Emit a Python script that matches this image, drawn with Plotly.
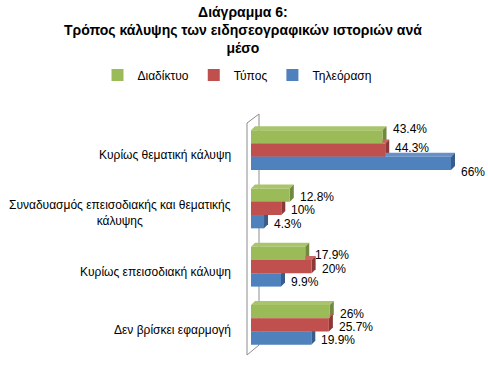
import plotly.graph_objects as go

categories = ["Κυρίως θεματική κάλυψη",
              "Συναδυασμός επεισοδιακής και θεματικής<br>κάλυψης",
              "Κυρίως επεισοδιακή κάλυψη",
              "Δεν βρίσκει εφαρμογή"]
series_names = ["Διαδίκτυο", "Τύπος", "Τηλεόραση"]
internet = [43.4, 12.8, 17.9, 26]
press = [44.3, 10, 20, 25.7]
tv = [66, 4.3, 9.9, 19.9]
label_text = {
    "Διαδίκτυο": ["43.4%", "12.8%", "17.9%", "26%"],
    "Τύπος": ["44.3%", "10%", "20%", "25.7%"],
    "Τηλεόραση": ["66%", "4.3%", "9.9%", "19.9%"],
}

# style
front_colors = ["#9BBB59", "#C0504D", "#4F81BD"]
side_colors = ["#71893F", "#8C3836", "#385D8A"]
top_colors = ["#A9C56B", "#C96562", "#6790C6"]
label_yshift = [[8, -2, -2, -2], [2, -2, -2, -2], [-9, -2, -2, -2]]
FONT = "Liberation Sans, Arial, sans-serif"

W_PX, H_PX = 488, 371
ML, MR, MT, MB = 10, 10, 121, 17
PW = W_PX - ML - MR
PH = H_PX - MT - MB
ZERO_PX = 251          # pixel where value 0 sits
PX_PER_UNIT = 200 / 66
XMIN = -(ZERO_PX - ML) / PX_PER_UNIT
XMAX = XMIN + PW / PX_PER_UNIT
cat_px = PH / len(categories)

bargap = 0.314
w = (1 - bargap) / 3
dx = 4 / PX_PER_UNIT
dy = 4 / cat_px

fig = go.Figure()
shapes = []
annotations = []
values = [internet, press, tv]
ypos = list(range(len(categories)))
for i, (name, vals) in enumerate(zip(series_names, values)):
    off = -(1 - bargap) / 2 + i * w
    fig.add_trace(go.Bar(
        y=ypos, x=vals, orientation="h", name=name,
        width=w, offset=off,
        marker=dict(color=front_colors[i], line=dict(width=0)),
        hoverinfo="x+name",
    ))
    for g, v in enumerate(vals):
        yt = g + off
        yb = yt + w
        shapes.append(dict(type="path", xref="x", yref="y", layer="below",
                           path=f"M 0,{yt} L {v},{yt} L {v+dx},{yt-dy} L {dx},{yt-dy} Z",
                           fillcolor=top_colors[i], line=dict(width=0)))
        shapes.append(dict(type="path", xref="x", yref="y", layer="below",
                           path=f"M {v},{yt} L {v+dx},{yt-dy} L {v+dx},{yb-dy} L {v},{yb} Z",
                           fillcolor=side_colors[i], line=dict(width=0)))
        annotations.append(dict(x=v, y=yt + w / 2, xref="x", yref="y",
                                text=label_text[name][g], showarrow=False,
                                xanchor="left", yanchor="middle", xshift=8,
                                yshift=label_yshift[i][g],
                                font=dict(size=12, color="#000000")))


def px(x):
    return (x - ML) / PW


def py(y):
    return (H_PX - MB - y) / PH


# category labels
for g, c in enumerate(categories):
    annotations.append(dict(x=px(233), y=g, xref="paper", yref="y",
                            text=c, showarrow=False, xanchor="right", yanchor="middle",
                            align="center", yshift=-5,
                            font=dict(size=12, color="#000000")))

# title
annotations.append(dict(x=px(243), y=py(2), xref="paper", yref="paper",
                        text="<b>Διάγραμμα 6:<br>Τρόπος κάλυψης των ειδησεογραφικών ιστοριών ανά<br>μέσο</b>",
                        showarrow=False, xanchor="center", yanchor="top", align="center",
                        font=dict(size=14, color="#000000")))

wall = (f"M {px(247)},{py(355)} L {px(247)},{py(123)} L {px(259)},{py(114)} "
        f"L {px(259)},{py(345)} Z")
shapes.insert(0, dict(type="path", xref="paper", yref="paper", layer="below",
                      path=wall, fillcolor="#FFFFFF", line=dict(color="#8C8C8C", width=1)))

fig.update_layout(
    width=W_PX, height=H_PX,
    margin=dict(l=ML, r=MR, t=MT, b=MB),
    paper_bgcolor="#FFFFFF", plot_bgcolor="rgba(0,0,0,0)",
    font=dict(family=FONT, size=12, color="#000000"),
    barmode="group",
    legend=dict(orientation="h", x=px(237), xanchor="center",
                y=py(75), yanchor="middle", itemwidth=30,
                font=dict(size=12), traceorder="normal"),
    xaxis=dict(range=[XMIN, XMAX], visible=False, fixedrange=True),
    yaxis=dict(range=[len(categories) - 0.5, -0.5], visible=False, fixedrange=True),
    shapes=shapes, annotations=annotations, showlegend=True,
)
fig.write_html("out.html", config={"displayModeBar": False},
               post_script="document.body.style.margin='0';")
